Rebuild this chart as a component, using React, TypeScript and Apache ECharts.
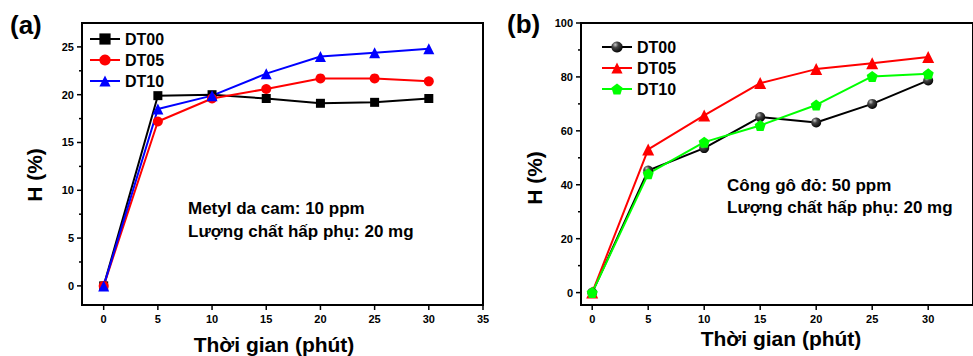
import React, { useEffect, useRef } from 'react';
import * as echarts from 'echarts';

// ---- Data ----
const times = [0, 5, 10, 15, 20, 25, 30];
const seriesNames = ['DT00', 'DT05', 'DT10'];
// Panel (a): Metyl da cam
const aDT00 = [0, 19.9, 20.0, 19.6, 19.1, 19.2, 19.6];
const aDT05 = [0, 17.2, 19.6, 20.6, 21.7, 21.7, 21.4];
const aDT10 = [0, 18.5, 19.9, 22.2, 24.0, 24.4, 24.8];
// Panel (b): Công gô đỏ
const bDT00 = [0, 45.3, 53.6, 65.1, 63.1, 70.0, 78.7];
const bDT05 = [0, 53.1, 65.7, 77.7, 82.9, 85.1, 87.4];
const bDT10 = [0, 44.1, 55.8, 62.0, 69.6, 80.2, 81.2];
// Axis ranges and ticks
const xRangeA = [-2, 35];
const yRangeA = [-2, 27.5];
const xRangeB = [-1, 34];
const yRangeB = [-4.6, 100];
const xTicksA = [0, 5, 10, 15, 20, 25, 30, 35];
const xTicksB = [0, 5, 10, 15, 20, 25, 30];
const yTicksA = [0, 5, 10, 15, 20, 25];
const yMinorA = [2.5, 7.5, 12.5, 17.5, 22.5];
const yTicksB = [0, 20, 40, 60, 80, 100];
const yMinorB = [10, 30, 50, 70, 90];
// Texts
const xTitle = 'Thời gian (phút)';
const yTitle = 'H (%)';
const noteA = ['Metyl da cam: 10 ppm', 'Lượng chất hấp phụ: 20 mg'];
const noteB = ['Công gô đỏ: 50 ppm', 'Lượng chất hấp phụ: 20 mg'];

const FONT = '"Liberation Sans", Arial, sans-serif';
const GRIDS = [
  { left: 82, top: 23, width: 401, height: 282 },
  { left: 581, top: 23, width: 417, height: 282 },
];

const pentagon = 'path://M50,0 L97.6,34.5 L79.4,90.5 L20.6,90.5 L2.4,34.5 Z';
const sphere = {
  type: 'radial', x: 0.35, y: 0.3, r: 0.75,
  colorStops: [
    { offset: 0, color: '#c8c8c8' },
    { offset: 0.35, color: '#444444' },
    { offset: 1, color: '#000000' },
  ],
};

const zip = (vals: number[]) => times.map((t, i) => [t, vals[i]]);

function makeText(text: string, x: number, y: number, size: number, extra: any = {}) {
  return {
    type: 'text', x, y, ...extra,
    style: {
      text, fill: '#000000', font: `bold ${size}px ${FONT}`,
      fontSize: size, fontWeight: 'bold', fontFamily: FONT,
      align: extra.align || 'left', verticalAlign: 'middle',
      textAlign: extra.align || 'left', textVerticalAlign: 'middle',
    },
  };
}

export default function App() {
  const ref = useRef<HTMLDivElement>(null);
  useEffect(() => {
    if (!ref.current) return;
    const chart = echarts.init(ref.current, null, { renderer: 'svg' });
    const label = { color: '#000000', fontSize: 11, fontWeight: 'bold', fontFamily: FONT };

    const axis = (gi: number, range: number[], ticks: number[], position: string, margin: number) => ({
      type: 'value', gridIndex: gi, min: range[0], max: range[1], position,
      axisLine: { show: false, onZero: false },
      splitLine: { show: false },
      axisTick: { show: false },
      axisLabel: { ...label, margin, customValues: ticks },
    });

    const line = (name: string, gi: number, data: number[], color: string, symbol: any, size: number, itemColor?: any) => ({
      type: 'line', name, xAxisIndex: gi, yAxisIndex: gi,
      data: zip(data), symbol, symbolSize: size, showSymbol: true, clip: false,
      lineStyle: { color, width: 2 },
      itemStyle: { color: itemColor || color, borderWidth: 0 },
      z: 3,
    });

    const legendCommon = {
      orient: 'vertical', itemWidth: 30, itemHeight: 14, itemGap: 5, padding: 0,
      formatter: (n: string) => n.slice(2),
      textStyle: { color: '#000000', fontSize: 16, fontWeight: 'bold', fontFamily: FONT, lineHeight: 16 },
      selectedMode: false,
    };

    const texts = [
      makeText('(a)', 10, 25, 26),
      makeText('(b)', 507, 24, 26),
      makeText(xTitle, 274, 344, 21, { align: 'center' }),
      makeText(xTitle, 781, 338, 21, { align: 'center' }),
      makeText(yTitle, 34, 175, 21, { align: 'center', rotation: Math.PI / 2 }),
      makeText(yTitle, 534, 178, 21, { align: 'center', rotation: Math.PI / 2 }),
      makeText(noteA[0], 188, 208, 17),
      makeText(noteA[1], 188, 231, 17),
      makeText(noteB[0], 727, 185, 17),
      makeText(noteB[1], 727, 207, 17),
    ];

    chart.setOption({
      animation: false,
      grid: GRIDS,
      xAxis: [
        axis(0, xRangeA, xTicksA, 'bottom', 8),
        axis(1, xRangeB, xTicksB, 'bottom', 8),
      ],
      yAxis: [
        axis(0, yRangeA, yTicksA, 'left', 8),
        axis(1, yRangeB, yTicksB, 'left', 8),
      ],
      legend: [
        { ...legendCommon, left: 89, top: 31, data: seriesNames.map((n) => 'a-' + n) },
        { ...legendCommon, left: 601, top: 39, data: seriesNames.map((n) => 'b-' + n) },
      ],
      series: [
        line('a-' + seriesNames[0], 0, aDT00, '#000000', 'rect', 9),
        line('a-' + seriesNames[1], 0, aDT05, '#ff0000', 'circle', 10),
        line('a-' + seriesNames[2], 0, aDT10, '#0000ff', 'triangle', 11),
        line('b-' + seriesNames[0], 1, bDT00, '#000000', 'circle', 10, sphere),
        line('b-' + seriesNames[1], 1, bDT05, '#ff0000', 'triangle', 12),
        line('b-' + seriesNames[2], 1, bDT10, '#00ff00', pentagon, 11),
      ],
      graphic: texts,
    });

    // Frame and ticks as graphic elements, positioned through the chart's own scales.
    const panels = [
      { gi: 0, xr: xRangeA, yr: yRangeA, xt: xTicksA, yt: yTicksA, ym: yMinorA },
      { gi: 1, xr: xRangeB, yr: yRangeB, xt: xTicksB, yt: yTicksB, ym: yMinorB },
    ];
    const shapes: any[] = [];
    const stroke = (w: number) => ({ stroke: '#000000', lineWidth: w, fill: null });
    panels.forEach((p) => {
      const finder = { xAxisIndex: p.gi, yAxisIndex: p.gi };
      const px = (v: number[]) => chart.convertToPixel(finder as any, v) as number[];
      const tl = px([p.xr[0], p.yr[1]]);
      const br = px([p.xr[1], p.yr[0]]);
      shapes.push({
        type: 'rect', z: 100, silent: true,
        shape: { x: tl[0], y: tl[1], width: br[0] - tl[0], height: br[1] - tl[1] },
        style: stroke(2),
      });
      p.xt.forEach((t) => {
        const q = px([t, p.yr[0]]);
        shapes.push({ type: 'line', z: 100, silent: true, shape: { x1: q[0], y1: q[1], x2: q[0], y2: q[1] + 5 }, style: stroke(1.5) });
      });
      p.yt.forEach((v) => {
        const q = px([p.xr[0], v]);
        shapes.push({ type: 'line', z: 100, silent: true, shape: { x1: q[0] - 5, y1: q[1], x2: q[0], y2: q[1] }, style: stroke(1.5) });
      });
      p.ym.forEach((v) => {
        const q = px([p.xr[0], v]);
        shapes.push({ type: 'line', z: 100, silent: true, shape: { x1: q[0] - 3, y1: q[1], x2: q[0], y2: q[1] }, style: stroke(1.5) });
      });
    });
    chart.setOption({ graphic: [...texts, ...shapes] });

    return () => chart.dispose();
  }, []);
  return <div ref={ref} style={{ position: 'fixed', left: 0, top: 0, width: 973, height: 356, overflow: 'hidden', background: '#ffffff' }} />;
}
